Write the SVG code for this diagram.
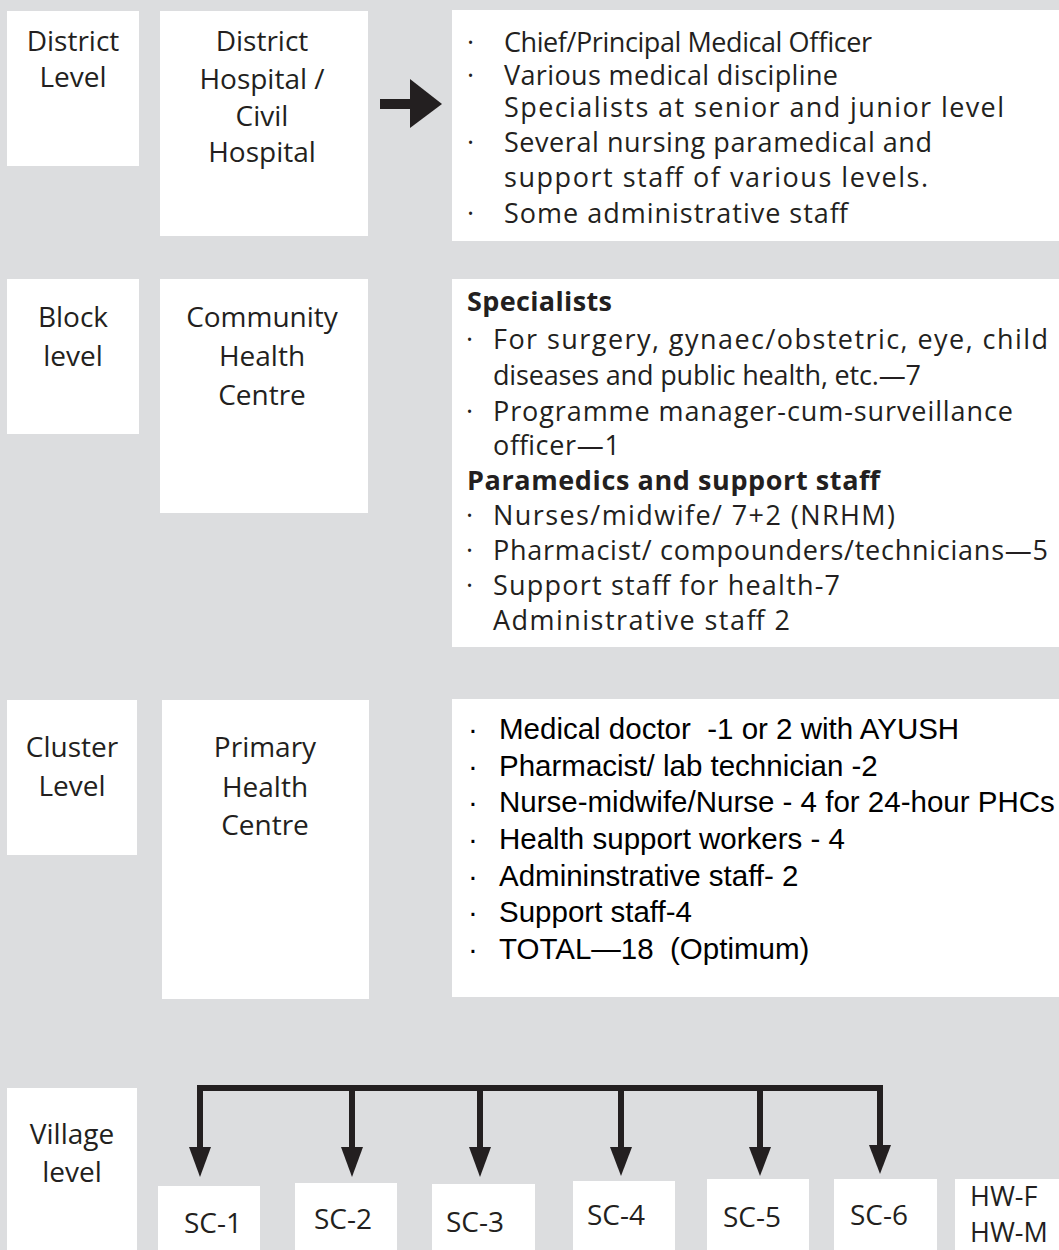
<svg xmlns="http://www.w3.org/2000/svg" width="1059" height="1250" viewBox="0 0 1059 1250">
<defs>
<style>
.bg{fill:#dcdddf}
.box{fill:#ffffff}
.lbl{font-family:"Open Sans","Noto Sans","DejaVu Sans",sans-serif;font-size:28px;fill:#231f20;text-anchor:middle}
.txt{font-family:"Open Sans","Noto Sans","DejaVu Sans",sans-serif;font-size:27px;fill:#231f20}
.bold{font-weight:bold}
.ar{font-family:"Liberation Sans",Arial,sans-serif;font-size:29.5px;fill:#000000}
.con{stroke:#231f20;stroke-width:6;fill:none}
.head{fill:#231f20}
</style>
</defs>
<rect class="bg" x="0" y="0" width="1059" height="1250"/>

<g id="district-level">
<rect class="box" x="7" y="11" width="132" height="155"/>
<text class="lbl" x="73" y="51">District</text>
<text class="lbl" x="73" y="87">Level</text>
</g>
<g id="district-hospital">
<rect class="box" x="160" y="11" width="208" height="225"/>
<text class="lbl" x="262" y="51">District</text>
<text class="lbl" x="262" y="89">Hospital /</text>
<text class="lbl" x="262" y="126">Civil</text>
<text class="lbl" x="262" y="162">Hospital</text>
</g>
<g id="district-staff">
<rect class="box" x="452" y="10" width="607" height="231"/>
<text class="txt" x="467" y="52">·</text>
<text class="txt" x="504" y="52" textLength="368" lengthAdjust="spacing">Chief/Principal Medical Officer</text>
<text class="txt" x="467" y="85">·</text>
<text class="txt" x="504" y="85" textLength="334" lengthAdjust="spacing">Various medical discipline</text>
<text class="txt" x="504" y="117" textLength="500" lengthAdjust="spacing">Specialists at senior and junior level</text>
<text class="txt" x="467" y="152">·</text>
<text class="txt" x="504" y="152" textLength="428" lengthAdjust="spacing">Several nursing paramedical and</text>
<text class="txt" x="504" y="187" textLength="424" lengthAdjust="spacing">support staff of various levels.</text>
<text class="txt" x="467" y="223">·</text>
<text class="txt" x="504" y="223" textLength="344" lengthAdjust="spacing">Some administrative staff</text>
</g>

<g id="block-level">
<rect class="box" x="7" y="279" width="132" height="155"/>
<text class="lbl" x="73" y="327">Block</text>
<text class="lbl" x="73" y="366">level</text>
</g>
<g id="chc">
<rect class="box" x="160" y="279" width="208" height="234"/>
<text class="lbl" x="262" y="327">Community</text>
<text class="lbl" x="262" y="366">Health</text>
<text class="lbl" x="262" y="405">Centre</text>
</g>
<g id="chc-staff">
<rect class="box" x="452" y="279" width="607" height="368"/>
<text class="txt bold" x="467" y="311" textLength="145" lengthAdjust="spacing">Specialists</text>
<text class="txt" x="466" y="349">·</text>
<text class="txt" x="493" y="349" textLength="555" lengthAdjust="spacing">For surgery, gynaec/obstetric, eye, child</text>
<text class="txt" x="493" y="385" textLength="428" lengthAdjust="spacing">diseases and public health, etc.—7</text>
<text class="txt" x="466" y="421">·</text>
<text class="txt" x="493" y="421" textLength="520" lengthAdjust="spacing">Programme manager-cum-surveillance</text>
<text class="txt" x="493" y="455" textLength="127" lengthAdjust="spacing">officer—1</text>
<text class="txt bold" x="467" y="490" textLength="413" lengthAdjust="spacing">Paramedics and support staff</text>
<text class="txt" x="466" y="525">·</text>
<text class="txt" x="493" y="525" textLength="402" lengthAdjust="spacing">Nurses/midwife/ 7+2 (NRHM)</text>
<text class="txt" x="466" y="560">·</text>
<text class="txt" x="493" y="560" textLength="555" lengthAdjust="spacing">Pharmacist/ compounders/technicians—5</text>
<text class="txt" x="466" y="595">·</text>
<text class="txt" x="493" y="595" textLength="347" lengthAdjust="spacing">Support staff for health-7</text>
<text class="txt" x="493" y="630" textLength="297" lengthAdjust="spacing">Administrative staff 2</text>
</g>

<g id="cluster-level">
<rect class="box" x="7" y="700" width="130" height="155"/>
<text class="lbl" x="72" y="757">Cluster</text>
<text class="lbl" x="72" y="796">Level</text>
</g>
<g id="phc">
<rect class="box" x="162" y="700" width="207" height="299"/>
<text class="lbl" x="265" y="757">Primary</text>
<text class="lbl" x="265" y="797">Health</text>
<text class="lbl" x="265" y="835">Centre</text>
</g>
<g id="phc-staff">
<rect class="box" x="452" y="699" width="607" height="298"/>
<text class="ar" x="468" y="739">·</text>
<text class="ar" x="499" y="739" style="white-space:pre">Medical doctor  -1 or 2 with AYUSH</text>
<text class="ar" x="468" y="776">·</text>
<text class="ar" x="499" y="776">Pharmacist/ lab technician -2</text>
<text class="ar" x="468" y="812">·</text>
<text class="ar" x="499" y="812">Nurse-midwife/Nurse - 4 for 24-hour PHCs</text>
<text class="ar" x="468" y="849">·</text>
<text class="ar" x="499" y="849">Health support workers - 4</text>
<text class="ar" x="468" y="886">·</text>
<text class="ar" x="499" y="886">Admininstrative staff- 2</text>
<text class="ar" x="468" y="922">·</text>
<text class="ar" x="499" y="922">Support staff-4</text>
<text class="ar" x="468" y="959">·</text>
<text class="ar" x="499" y="959" style="white-space:pre">TOTAL—18  (Optimum)</text>
</g>

<g id="village-level">
<rect class="box" x="7" y="1088" width="130" height="162"/>
<text class="lbl" x="72" y="1144">Village</text>
<text class="lbl" x="72" y="1182">level</text>
</g>
<g id="sc-1"><rect class="box" x="158" y="1186" width="102" height="64"/><text class="lbl" x="213" y="1233">SC-1</text></g>
<g id="sc-2"><rect class="box" x="295" y="1183" width="102" height="67"/><text class="lbl" x="343" y="1229">SC-2</text></g>
<g id="sc-3"><rect class="box" x="432" y="1184" width="103" height="66"/><text class="lbl" x="475" y="1232">SC-3</text></g>
<g id="sc-4"><rect class="box" x="573" y="1181" width="102" height="69"/><text class="lbl" x="616" y="1225">SC-4</text></g>
<g id="sc-5"><rect class="box" x="707" y="1179" width="102" height="71"/><text class="lbl" x="752" y="1227">SC-5</text></g>
<g id="sc-6"><rect class="box" x="834" y="1179" width="103" height="71"/><text class="lbl" x="879" y="1225">SC-6</text></g>
<g id="hw"><rect class="box" x="955" y="1179" width="104" height="71"/><text class="txt" x="970" y="1206" font-size="28">HW-F</text><text class="txt" x="970" y="1242" font-size="28">HW-M</text></g>

<g id="connectors">
<rect class="head" x="380" y="99" width="32" height="10"/>
<path class="head" d="M410,79 L442,104 L410,128 Z"/>
<path class="con" d="M200,1150 V1088 H880 V1150"/>
<path class="con" d="M352,1088 V1150"/>
<path class="con" d="M480,1088 V1150"/>
<path class="con" d="M621,1088 V1150"/>
<path class="con" d="M760,1088 V1150"/>
<path class="head" d="M189,1147 L211,1147 L200,1177 Z"/>
<path class="head" d="M341,1147 L363,1147 L352,1177 Z"/>
<path class="head" d="M469,1147 L491,1147 L480,1177 Z"/>
<path class="head" d="M610,1147 L632,1147 L621,1176 Z"/>
<path class="head" d="M749,1147 L771,1147 L760,1176 Z"/>
<path class="head" d="M869,1145 L891,1145 L880,1174 Z"/>
</g>
</svg>
